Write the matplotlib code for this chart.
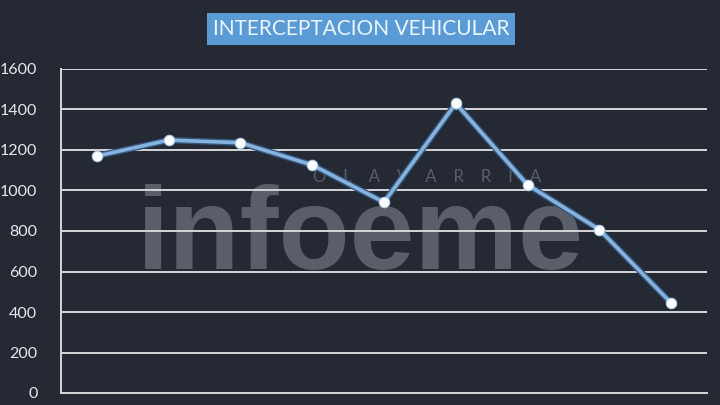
import numpy as np
import matplotlib
matplotlib.use('Agg')
import matplotlib.pyplot as plt

# ── data ──────────────────────────────────────────────────
categories = ['1', '2', '3', '4', '5', '6', '7', '8', '9']   # x labels cropped in source
values     = [1170, 1249, 1236, 1126, 942, 1430, 1028, 807, 445]
y_ticks    = [0, 200, 400, 600, 800, 1000, 1200, 1400, 1600]
title      = "INTERCEPTACION VEHICULAR"

BG    = '#242934'
GRID  = '#d4d6da'
LINE  = '#86b2de'
BOX   = '#5b9bd5'
MARK  = '#595e68'   # watermark grey

plt.rcParams['font.family'] = ['Lato', 'DejaVu Sans']

fig = plt.figure(figsize=(7.2, 4.05), dpi=100, facecolor=BG)
ax = fig.add_axes([61/720, 12/405, 646/720, 324/405])
ax.set_facecolor(BG)

x = np.arange(len(categories))

# watermark sits under the gridlines and the series
ax.text(0.5, 0.336, "infoeme", transform=fig.transFigure, fontsize=84,
        fontweight='bold', color=MARK, ha='center', va='baseline',
        family=['Liberation Sans', 'DejaVu Sans'], zorder=1)
ax.text(427/720, 1 - 177/405, "O    L    A    V    A    R    R    I    A",
        transform=fig.transFigure, fontsize=12, color=MARK,
        ha='center', va='center', zorder=1)

ax.set_yticks(y_ticks)
ax.yaxis.grid(True, color=GRID, linewidth=1.4)
ax.set_axisbelow('line')

ax.plot(x, values, color='#34577e', linewidth=4.6, solid_capstyle='round', zorder=3)
ax.plot(x, values, color=LINE, linewidth=2.6, zorder=4, marker='o',
        markersize=7.5, markerfacecolor='white', markeredgecolor='#b3d0ee',
        markeredgewidth=0.8)

ax.set_xlim(-0.5, len(categories) - 0.5)
ax.set_ylim(0, 1600)
ax.set_xticks([])

for side in ['top', 'right']:
    ax.spines[side].set_visible(False)
ax.spines['left'].set_color(GRID)
ax.spines['left'].set_linewidth(1.4)
ax.spines['bottom'].set_color(GRID)
ax.spines['bottom'].set_linewidth(1.4)

ax.tick_params(axis='y', length=0, pad=17, labelsize=11.5, labelcolor='#e6e8ec')

fig.text(361/720, 1 - 29/405, title, fontsize=15, color='#eaf6ff',
         ha='center', va='center',
         bbox=dict(boxstyle='square,pad=0.28', facecolor=BOX, edgecolor='none'))

plt.savefig('out.png', dpi=100, facecolor=BG)
plt.close()
